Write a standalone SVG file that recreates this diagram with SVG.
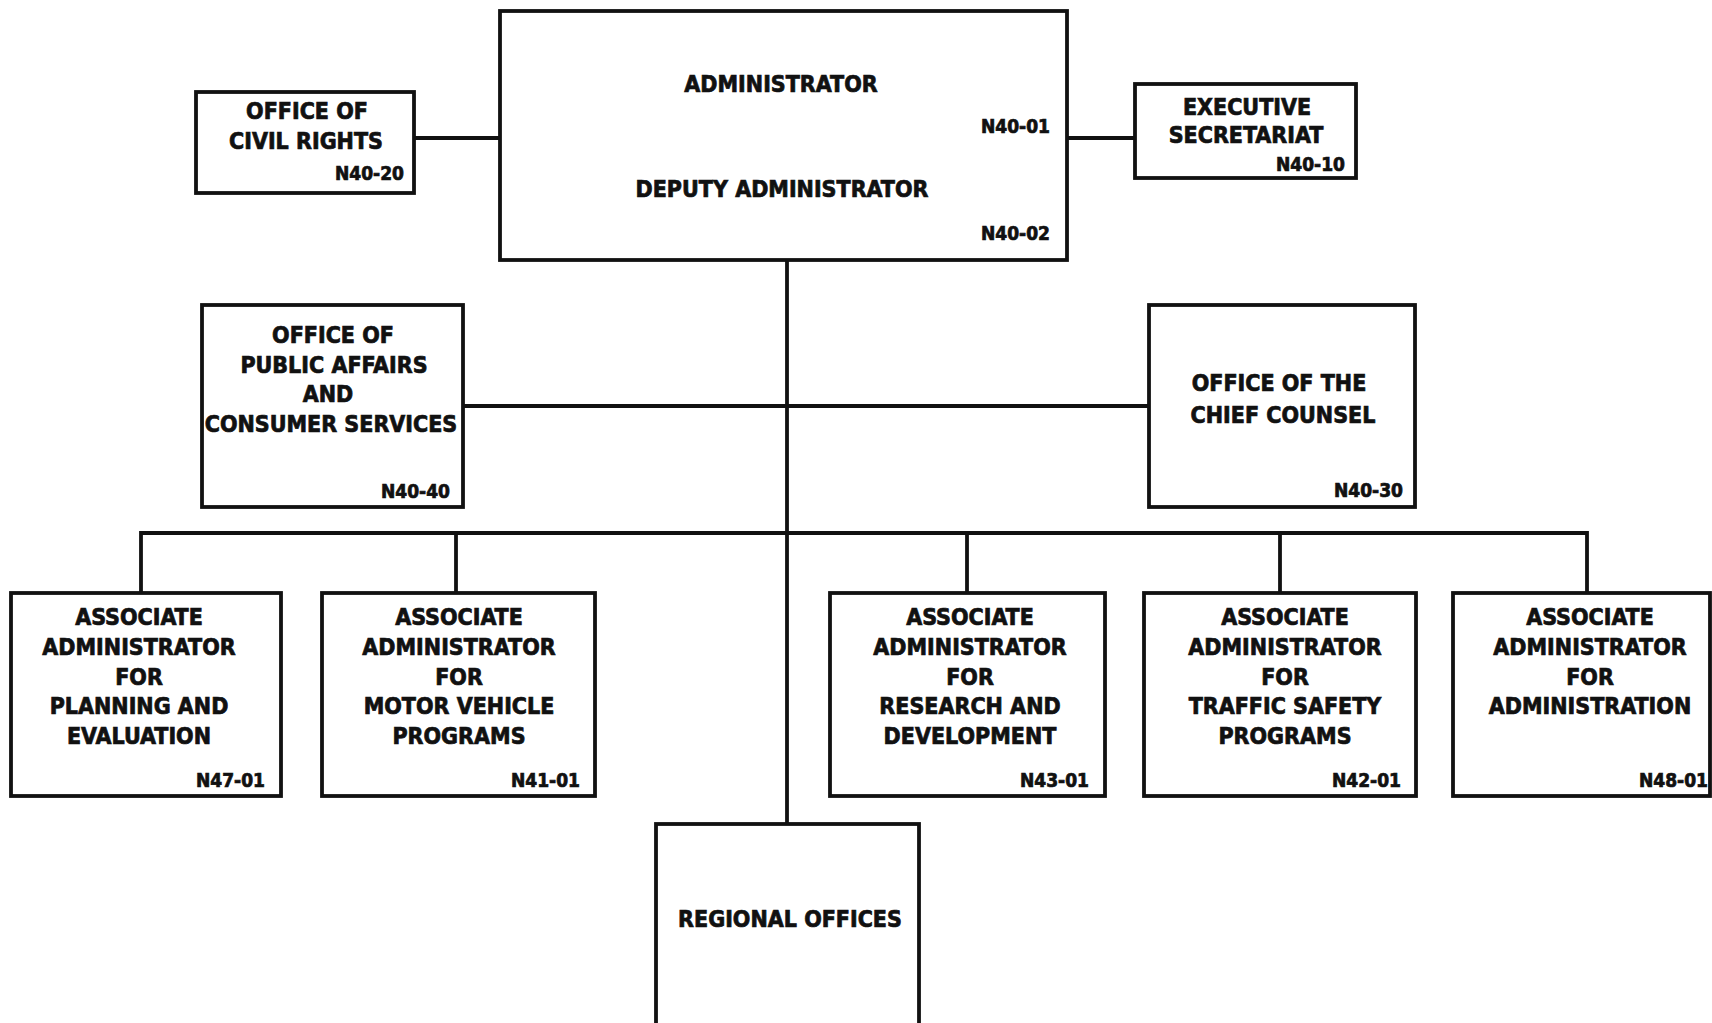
<svg xmlns="http://www.w3.org/2000/svg" width="1712" height="1023" viewBox="0 0 1712 1023">
<style>
.box{fill:#fff;stroke:#111;stroke-width:3.8}
.ln{fill:none;stroke:#111;stroke-width:3.8}
text{font-family:"DejaVu Sans Condensed","Liberation Sans Narrow","Liberation Sans",sans-serif;font-weight:bold;fill:#111;stroke:#111;stroke-width:0.7}
.t{font-size:23px;text-anchor:middle}
.c{font-size:19px;text-anchor:end}
</style>
<rect width="1712" height="1023" fill="#fff"/>
<g id="connectors">
<line class="ln" x1="414" y1="138" x2="500" y2="138"/>
<line class="ln" x1="1067" y1="138" x2="1135" y2="138"/>
<line class="ln" x1="787" y1="260" x2="787" y2="824"/>
<line class="ln" x1="463" y1="406" x2="1149" y2="406"/>
<path class="ln" d="M141 593V533H1587V593"/>
<line class="ln" x1="456" y1="533" x2="456" y2="593"/>
<line class="ln" x1="967" y1="533" x2="967" y2="593"/>
<line class="ln" x1="1280" y1="533" x2="1280" y2="593"/>
</g>
<g id="administrator">
<rect class="box" x="500" y="11" width="567" height="249"/>
<text class="t" x="781" y="92">ADMINISTRATOR</text>
<text class="c" x="1050" y="133">N40-01</text>
<text class="t" x="782" y="197">DEPUTY ADMINISTRATOR</text>
<text class="c" x="1050" y="240">N40-02</text>
</g>
<g id="civil-rights">
<rect class="box" x="196" y="92" width="218" height="101"/>
<text class="t" x="307" y="119">OFFICE OF</text>
<text class="t" x="306" y="149">CIVIL RIGHTS</text>
<text class="c" x="404" y="180">N40-20</text>
</g>
<g id="executive-secretariat">
<rect class="box" x="1135" y="84" width="221" height="94"/>
<text class="t" x="1247" y="115">EXECUTIVE</text>
<text class="t" x="1246" y="143">SECRETARIAT</text>
<text class="c" x="1345" y="171">N40-10</text>
</g>
<g id="public-affairs">
<rect class="box" x="202" y="305" width="261" height="202"/>
<text class="t" x="333" y="343">OFFICE OF</text>
<text class="t" x="334" y="373">PUBLIC AFFAIRS</text>
<text class="t" x="328" y="402">AND</text>
<text class="t" x="331" y="432">CONSUMER SERVICES</text>
<text class="c" x="450" y="498">N40-40</text>
</g>
<g id="chief-counsel">
<rect class="box" x="1149" y="305" width="266" height="202"/>
<text class="t" x="1279" y="391">OFFICE OF THE</text>
<text class="t" x="1283" y="423">CHIEF COUNSEL</text>
<text class="c" x="1403" y="497">N40-30</text>
</g>
<g id="planning-evaluation">
<rect class="box" x="11" y="593" width="270" height="203"/>
<text class="t" x="139" y="625">ASSOCIATE</text>
<text class="t" x="139" y="655">ADMINISTRATOR</text>
<text class="t" x="139" y="685">FOR</text>
<text class="t" x="139" y="714">PLANNING AND</text>
<text class="t" x="139" y="744">EVALUATION</text>
<text class="c" x="265" y="787">N47-01</text>
</g>
<g id="motor-vehicle">
<rect class="box" x="322" y="593" width="273" height="203"/>
<text class="t" x="459" y="625">ASSOCIATE</text>
<text class="t" x="459" y="655">ADMINISTRATOR</text>
<text class="t" x="459" y="685">FOR</text>
<text class="t" x="459" y="714">MOTOR VEHICLE</text>
<text class="t" x="459" y="744">PROGRAMS</text>
<text class="c" x="580" y="787">N41-01</text>
</g>
<g id="research-development">
<rect class="box" x="830" y="593" width="275" height="203"/>
<text class="t" x="970" y="625">ASSOCIATE</text>
<text class="t" x="970" y="655">ADMINISTRATOR</text>
<text class="t" x="970" y="685">FOR</text>
<text class="t" x="970" y="714">RESEARCH AND</text>
<text class="t" x="970" y="744">DEVELOPMENT</text>
<text class="c" x="1089" y="787">N43-01</text>
</g>
<g id="traffic-safety">
<rect class="box" x="1144" y="593" width="272" height="203"/>
<text class="t" x="1285" y="625">ASSOCIATE</text>
<text class="t" x="1285" y="655">ADMINISTRATOR</text>
<text class="t" x="1285" y="685">FOR</text>
<text class="t" x="1285" y="714">TRAFFIC SAFETY</text>
<text class="t" x="1285" y="744">PROGRAMS</text>
<text class="c" x="1401" y="787">N42-01</text>
</g>
<g id="administration">
<rect class="box" x="1453" y="593" width="257" height="203"/>
<text class="t" x="1590" y="625">ASSOCIATE</text>
<text class="t" x="1590" y="655">ADMINISTRATOR</text>
<text class="t" x="1590" y="685">FOR</text>
<text class="t" x="1590" y="714">ADMINISTRATION</text>
<text class="c" x="1708" y="787">N48-01</text>
</g>
<g id="regional-offices">
<rect class="box" x="656" y="824" width="263" height="220"/>
<text class="t" x="790" y="927">REGIONAL OFFICES</text>
</g>
</svg>
